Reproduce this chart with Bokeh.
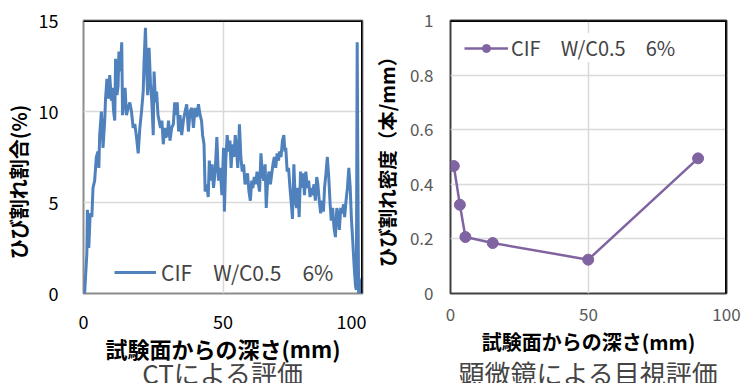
from bokeh.plotting import figure
from bokeh.layouts import row
from bokeh.models import Span, Title, Legend, LegendItem, FixedTicker, Range1d
from bokeh.embed import file_html
from bokeh.resources import INLINE

# ---------------- data ----------------
ct_depth = [0.0, 0.4, 1.2, 1.4, 1.9, 2.4, 3.0, 3.4, 4.0, 4.6, 5.2, 5.5, 5.8, 6.4, 7.0, 7.6, 7.9,
            8.4, 8.9, 9.4, 10.0, 10.3, 10.8, 11.2, 11.5, 12.0, 12.4, 12.7, 13.2, 13.7, 14.0,
            14.4, 14.9, 15.4, 16.0, 16.6, 17.2, 17.8, 18.4, 19.0, 19.6, 20.2, 20.8, 21.4, 21.7,
            22.2, 22.6, 23.0, 23.5, 24.0, 24.5, 25.0, 25.3, 25.8, 26.2, 26.7, 27.1, 27.6, 28.1,
            28.6, 29.1, 29.5, 30.0, 30.5, 31.0, 31.6, 32.2, 32.7, 33.1, 33.6, 34.1, 34.6, 35.2,
            35.8, 36.4, 37.0, 37.6, 38.2, 38.8, 39.4, 40.0, 40.6, 41.2, 41.8, 42.3, 42.7, 43.2,
            43.6, 44.2, 44.7, 45.1, 45.6, 46.1, 46.6, 47.2, 47.8, 48.4, 49.0, 49.6, 50.2, 50.5,
            51.0, 51.5, 52.0, 52.5, 52.9, 53.4, 53.9, 54.4, 54.9, 55.3, 55.9, 56.4, 56.9, 57.4,
            57.9, 58.3, 58.8, 59.3, 59.8, 60.3, 60.7, 61.2, 61.7, 62.2, 62.7, 63.1, 63.6, 64.1,
            64.6, 65.1, 65.5, 66.0, 66.5, 67.0, 67.5, 67.9, 68.4, 68.9, 69.4, 69.9, 70.3, 70.8,
            71.3, 71.8, 72.2, 72.5, 73.0, 73.5, 74.0, 74.4, 74.9, 75.4, 75.9, 76.4, 76.8, 77.3,
            77.8, 78.3, 78.8, 79.2, 79.7, 80.2, 80.7, 81.2, 81.6, 82.1, 82.6, 83.1, 83.6, 84.0,
            84.5, 85.0, 85.5, 86.0, 86.4, 86.9, 87.4, 87.9, 88.4, 88.8, 89.3, 89.8, 90.3, 90.8,
            91.2, 91.7, 92.2, 92.7, 93.2, 93.6, 94.1, 94.6, 95.1, 95.6, 96.0, 96.5, 97.0, 97.5,
            97.8, 98.1, 98.3, 98.6, 99.0, 99.6, 100.0]
ct_ratio = [0.0, 0.0, 2.2, 4.6, 2.5, 4.4, 4.2, 5.8, 6.2, 7.5, 7.8, 6.9, 8.7, 10.0, 8.0, 9.5, 10.7,
            11.8, 10.7, 12.0, 10.6, 11.3, 10.0, 9.5, 12.9, 10.9, 11.4, 13.3, 12.2, 13.8, 9.8,
            10.5, 11.3, 9.8, 10.2, 10.5, 10.0, 9.1, 9.3, 8.6, 7.7, 9.1, 10.0, 11.1, 12.7,
            14.6, 12.4, 10.9, 13.5, 11.6, 10.5, 8.7, 12.2, 10.5, 11.1, 9.8, 9.5, 9.1, 9.5,
            8.2, 9.1, 8.6, 8.7, 9.5, 8.4, 9.1, 9.3, 10.5, 9.8, 10.5, 8.9, 9.8, 8.7,
            9.5, 10.0, 10.4, 8.9, 10.0, 10.2, 9.1, 10.2, 9.7, 10.4, 9.8, 9.5, 8.7, 8.2,
            5.6, 6.0, 5.3, 7.3, 6.2, 7.1, 5.8, 6.7, 8.6, 6.2, 6.9, 5.4, 8.0, 4.5,
            7.3, 8.7, 7.8, 8.4, 6.9, 8.2, 7.5, 8.7, 7.8, 6.9, 9.3, 7.5, 6.7, 7.1,
            6.0, 6.2, 6.6, 5.6, 5.1, 6.2, 5.8, 6.4, 6.0, 6.7, 6.0, 5.6, 7.7, 6.6,
            6.2, 7.1, 4.7, 6.2, 6.7, 6.0, 6.6, 7.1, 7.5, 6.9, 7.7, 7.3, 7.8, 7.5,
            8.4, 8.7, 7.8, 8.0, 6.7, 6.9, 5.8, 5.1, 4.1, 7.1, 5.1, 4.7, 5.8, 4.2,
            6.7, 5.8, 6.6, 5.4, 6.7, 5.8, 6.2, 5.3, 5.8, 5.4, 6.0, 5.1, 6.4, 6.0,
            5.1, 4.4, 5.1, 4.5, 5.8, 6.6, 7.5, 6.4, 4.9, 4.0, 4.7, 3.6, 3.1, 4.7,
            4.4, 3.5, 4.7, 4.4, 4.9, 4.2, 5.1, 5.8, 6.9, 5.8, 4.2, 2.9, 1.5, 0.4,
            0.2, 13.8, 7.8, 0.0, 0.0, 0.7, 0.9]

mic_depth = [1.2, 3.4, 5.4, 15.3, 49.9, 89.7]
mic_density = [0.467, 0.325, 0.207, 0.185, 0.124, 0.495]

series_label = "CIF\u3000W/C0.5\u30006%"
x_ticks = [0, 50, 100]
ct_y_ticks = [0, 5, 10, 15]
mic_y_ticks = [0, 0.2, 0.4, 0.6, 0.8, 1.0]
mic_y_labels = {0: "0", 0.2: "0.2", 0.4: "0.4", 0.6: "0.6", 0.8: "0.8", 1.0: "1"}

FONT = "Noto Sans CJK JP"
GRID = "#D9D9D9"


def style(p, tick_color, tick_size, xstand, ystand):
    for ax in (p.xaxis[0], p.yaxis[0]):
        ax.axis_line_color = None
        ax.major_tick_line_color = None
        ax.minor_tick_line_color = None
        ax.major_label_text_font = FONT
        ax.major_label_text_color = tick_color
        ax.major_label_text_font_size = tick_size
        ax.axis_label_text_font = FONT
        ax.axis_label_text_font_style = "bold"
        ax.axis_label_text_color = "black"
    p.xaxis[0].major_label_standoff = xstand
    p.yaxis[0].major_label_standoff = ystand
    p.xgrid.grid_line_color = GRID
    p.ygrid.grid_line_color = GRID
    p.xgrid.grid_line_width = 1.5
    p.ygrid.grid_line_width = 1.5
    p.background_fill_color = "white"
    p.border_fill_color = "white"


# ---------------- left: CT ----------------
p1 = figure(width=366, height=383, output_backend="svg", toolbar_location=None,
            x_range=Range1d(0, 100), y_range=Range1d(0, 15),
            min_border_left=83, min_border_right=4, min_border_top=18, min_border_bottom=90)
p1.xaxis.ticker = FixedTicker(ticks=x_ticks)
p1.yaxis.ticker = FixedTicker(ticks=ct_y_ticks)
style(p1, "black", "18px", 15, 19)
p1.xaxis.axis_label = "試験面からの深さ(mm)"
p1.xaxis.axis_label_text_font_size = "22px"
p1.xaxis.axis_label_standoff = 0
p1.yaxis.axis_label = "ひび割れ割合(%)\u3000\u3000\u2002"
p1.yaxis.axis_label_text_font_size = "20px"
p1.yaxis.axis_label_standoff = 3
p1.outline_line_color = "#8C8C8C"
p1.outline_line_width = 2
r1 = p1.line(ct_depth, ct_ratio, line_color="#4F81BD", line_width=3)
p1.add_layout(Span(location=15, dimension="width", line_color="black", line_width=3))
p1.add_layout(Span(location=100, dimension="height", line_color="black", line_width=3))
leg1 = Legend(items=[LegendItem(label=series_label, renderers=[r1])],
              location=(31, 6), background_fill_alpha=0, border_line_color=None,
              label_text_font=FONT, label_text_font_size="21px", glyph_width=42,
              padding=0, margin=0, spacing=0, label_standoff=5)
p1.add_layout(leg1)
p1.add_layout(Title(text="CTによる評価", text_font=FONT, text_font_size="26px",
                    text_font_style="normal", align="center", standoff=-30), "below")

# ---------------- right: microscope ----------------
p2 = figure(width=382, height=383, output_backend="svg", toolbar_location=None,
            x_range=Range1d(0, 100), y_range=Range1d(0, 1),
            min_border_left=84, min_border_right=22, min_border_top=20, min_border_bottom=89)
p2.xaxis.ticker = FixedTicker(ticks=x_ticks)
p2.yaxis.ticker = FixedTicker(ticks=mic_y_ticks)
p2.yaxis.major_label_overrides = mic_y_labels
style(p2, "#595959", "17px", 8, 11)
p2.xaxis.axis_label = "試験面からの深さ(mm)"
p2.xaxis.axis_label_text_font_size = "20px"
p2.xaxis.axis_label_standoff = 3
p2.yaxis.axis_label = "ひび割れ密度（本/mm）"
p2.yaxis.axis_label_text_font_size = "19.5px"
p2.yaxis.axis_label_standoff = 6
p2.outline_line_color = "#404040"
p2.outline_line_width = 2
r2l = p2.line(mic_depth, mic_density, line_color="#8064A2", line_width=2.5)
r2m = p2.scatter(mic_depth, mic_density, size=11, fill_color="#8064A2", line_color="#8064A2")
p2.add_layout(Span(location=1, dimension="width", line_color="black", line_width=3))
p2.add_layout(Span(location=100, dimension="height", line_color="black", line_width=3))
leg2 = Legend(items=[LegendItem(label=series_label, renderers=[r2l, r2m])],
              location=(14, 231), background_fill_color="white", background_fill_alpha=1,
              border_line_color=None,
              label_text_font=FONT, label_text_font_size="20px", glyph_width=44,
              padding=4, margin=0, spacing=0, label_standoff=3)
p2.add_layout(leg2)
# small blank spacer between the axis and the caption
p2.add_layout(Title(text="\u3000", text_font=FONT, text_font_size="5px",
                    align="center", standoff=1), "below")
p2.add_layout(Title(text="顕微鏡による目視評価", text_font=FONT, text_font_size="26px",
                    text_font_style="normal", align="center", standoff=-34), "below")

layout = row(p1, p2, spacing=0)
open("out.html", "w").write(file_html(layout, INLINE))
